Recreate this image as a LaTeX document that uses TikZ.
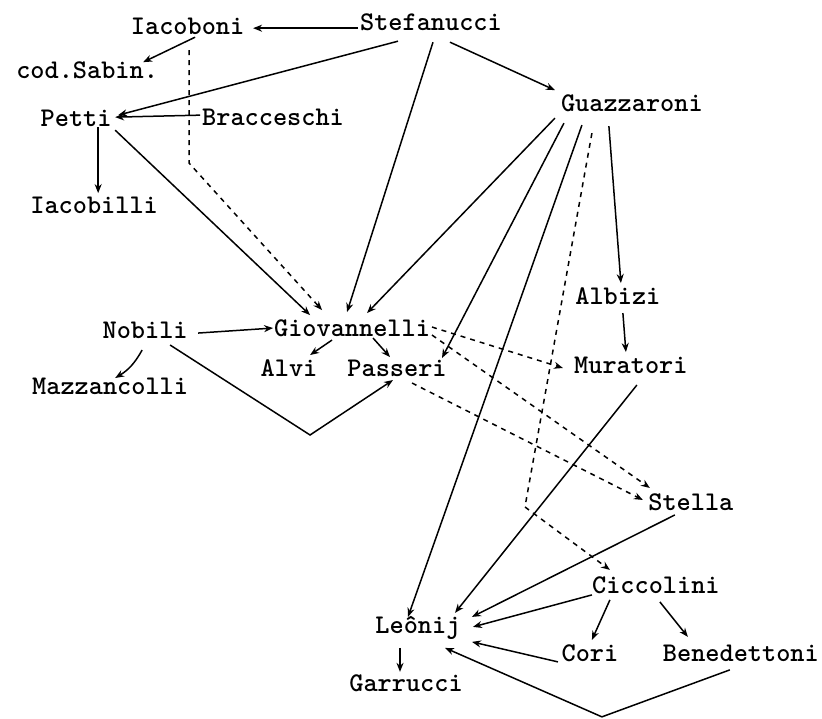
\documentclass[tikz,border=0pt]{standalone}
\usetikzlibrary{arrows.meta}
\begin{document}
\begin{tikzpicture}[x=1pt,y=-1pt,
        nm/.style={font=\fontsize{27}{30}\selectfont\ttfamily\bfseries,inner sep=1pt,anchor=center},
        arr/.style={line width=1.5pt,-{Stealth[length=9pt,width=7pt]}},
        oarr/.style={line width=1.5pt,-{Stealth[open,length=9pt,width=7pt]}},
        dsh/.style={dash pattern=on 5pt off 5pt}]
        \draw[white] (0,0) rectangle (822,718);
        \node[nm] (Iac) at (187.5,26) {Iacoboni};
        \node[nm] (Ste) at (431,22) {Stefanucci};
        \node[nm] (Sab) at (87,70) {cod.Sabin.};
        \node[nm] (Pet) at (76,118) {Petti};
        \node[nm] (Bra) at (273,117) {Bracceschi};
        \node[nm] (Gua) at (632,103) {Guazzaroni};
        \node[nm] (Iab) at (94,205) {Iacobilli};
        \node[nm] (Alb) at (618,296) {Albizi};
        \node[nm] (Nob) at (145,330) {Nobili};
        \node[nm] (Gio) at (352,328) {Giovannelli};
        \node[nm] (Alv) at (289,368) {Alvi};
        \node[nm] (Pas) at (397,368) {Passeri};
        \node[nm] (Mur) at (631,365) {Muratori};
        \node[nm] (Maz) at (110,386) {Mazzancolli};
        \node[nm] (Stl) at (691,502) {Stella};
        \node[nm] (Cic) at (656,585) {Ciccolini};
        \node[nm] (Leo) at (418,628) {Leônij};
        \node[nm] (Cor) at (590,653) {Cori};
        \node[nm] (Ben) at (741,653) {Benedettoni};
        \node[nm] (Gar) at (406,683) {Garrucci};
        \draw[arr] ([shift={(-73,6)}]Ste.center) -- ([shift={(65.5,2)}]Iac.center);
        \draw[oarr] ([shift={(7.5,11)}]Iac.center) -- ([shift={(56,-8)}]Sab.center);
        \draw[oarr] ([shift={(-33,19)}]Ste.center) -- ([shift={(42,-3)}]Pet.center);
        \draw[arr] ([shift={(-73,-2)}]Bra.center) -- ([shift={(39,-1)}]Pet.center);
        \draw[oarr] ([shift={(22,9)}]Pet.center) -- ([shift={(4,-12)}]Iab.center);
        \draw[oarr] ([shift={(39,12)}]Pet.center) -- ([shift={(-42,-13)}]Gio.center);
        \draw[oarr,dsh] ([shift={(1.5,24)}]Iac.center) -- ++(0,113) -- ([shift={(-30,-18)}]Gio.center);
        \draw[oarr] ([shift={(2,20)}]Ste.center) -- ([shift={(-5,-16)}]Gio.center);
        \draw[arr] ([shift={(19,20)}]Ste.center) -- ([shift={(-77,-13)}]Gua.center);
        \draw[oarr] ([shift={(-77,15)}]Gua.center) -- ([shift={(15,-15)}]Gio.center);
        \draw[arr] ([shift={(-68,20)}]Gua.center) -- ([shift={(45,-10)}]Pas.center);
        \draw[arr] ([shift={(-50,22)}]Gua.center) -- ([shift={(-10,-11)}]Leo.center);
        \draw[oarr,dsh] ([shift={(-40,30)}]Gua.center) -- ++(-67,374) -- ([shift={(-46,-15)}]Cic.center);
        \draw[arr] ([shift={(-23,23)}]Gua.center) -- ([shift={(3,-13)}]Alb.center);
        \draw[oarr] ([shift={(5,17)}]Alb.center) -- ([shift={(-5,-13)}]Mur.center);
        \draw[oarr] ([shift={(6,20)}]Mur.center) -- ([shift={(37,-15)}]Leo.center);
        \draw[arr] ([shift={(53,3)}]Nob.center) -- ([shift={(-79,0)}]Gio.center);
        \draw[oarr] ([shift={(-3,20)}]Nob.center) to[bend left=15] ([shift={(5,-8)}]Maz.center);
        \draw[oarr] ([shift={(25,15)}]Nob.center) -- ++(140,90) -- ([shift={(-4,12)}]Pas.center);
        \draw[oarr] ([shift={(-20,12)}]Gio.center) -- ([shift={(21,-13)}]Alv.center);
        \draw[arr] ([shift={(21,10)}]Gio.center) -- ([shift={(-7,-11)}]Pas.center);
        \draw[arr,dsh] ([shift={(80,-1)}]Gio.center) -- ([shift={(-68,3)}]Mur.center);
        \draw[arr,dsh] ([shift={(80,7)}]Gio.center) -- ([shift={(-41,-14)}]Stl.center);
        \draw[oarr,dsh] ([shift={(15,15)}]Pas.center) -- ([shift={(-48,-2)}]Stl.center);
        \draw[oarr] ([shift={(-16,13)}]Stl.center) -- ([shift={(54,-11)}]Leo.center);
        \draw[arr] ([shift={(-64,10)}]Cic.center) -- ([shift={(55,-1)}]Leo.center);
        \draw[arr] ([shift={(-46,15)}]Cic.center) -- ([shift={(2,-13)}]Cor.center);
        \draw[arr] ([shift={(4,17)}]Cic.center) -- ([shift={(-53,-16)}]Ben.center);
        \draw[oarr] ([shift={(-32,9)}]Cor.center) -- ([shift={(54,14)}]Leo.center);
        \draw[oarr] ([shift={(-11,17)}]Ben.center) -- ++(-128,47) -- ([shift={(27,20)}]Leo.center);
        \draw[oarr] ([shift={(-18,20)}]Leo.center) -- ([shift={(-6,-11)}]Gar.center);
    \end{tikzpicture}
\end{document}
